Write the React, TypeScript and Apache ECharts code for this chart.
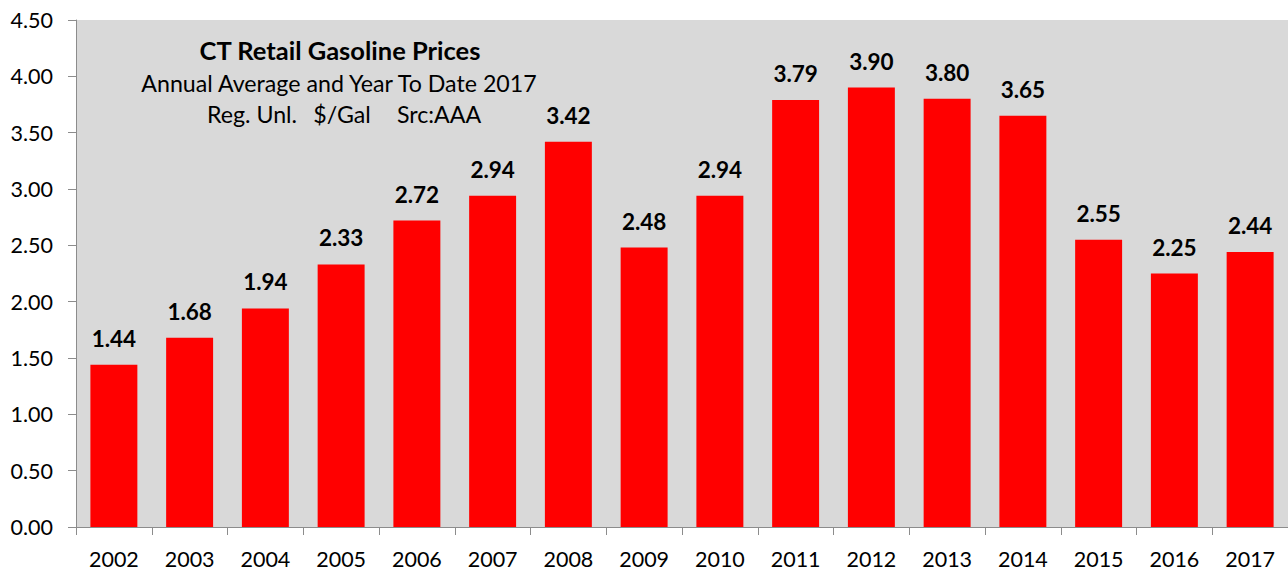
import React, { useEffect, useRef } from "react";
import * as echarts from "echarts";

const years = ["2002","2003","2004","2005","2006","2007","2008","2009","2010","2011","2012","2013","2014","2015","2016","2017"];
const prices = [1.44, 1.68, 1.94, 2.33, 2.72, 2.94, 3.42, 2.48, 2.94, 3.79, 3.90, 3.80, 3.65, 2.55, 2.25, 2.44];
const titleText = "CT Retail Gasoline Prices";
const subtitleText = "Annual Average and Year To Date 2017";
const noteParts = ["Reg. Unl.", "$/Gal", "Src:AAA"];

const FONT = "Lato, 'Open Sans', sans-serif";

export default function App() {
  const ref = useRef<HTMLDivElement>(null);
  useEffect(() => {
    if (!ref.current) return;
    const chart = echarts.init(ref.current, undefined, { renderer: "svg" });
    const notePos = [252, 342, 439];
    chart.setOption({
      animation: false,
      backgroundColor: "#ffffff",
      grid: { left: 76, right: -2, top: 20, bottom: 45, backgroundColor: "#d9d9d9", show: true, borderWidth: 0 },
      xAxis: {
        type: "category",
        data: years,
        axisLine: { lineStyle: { color: "#8c8c8c", width: 1 } },
        axisTick: { show: true, length: 8, lineStyle: { color: "#8c8c8c" } },
        axisLabel: { color: "#000", fontSize: 21.5, fontFamily: FONT, margin: 21 },
      },
      yAxis: {
        type: "value",
        min: 0,
        max: 4.5,
        interval: 0.5,
        axisLine: { show: true, lineStyle: { color: "#8c8c8c", width: 1 } },
        axisTick: { show: true, length: 8, lineStyle: { color: "#8c8c8c" } },
        splitLine: { show: false },
        axisLabel: { color: "#000", fontSize: 21.5, fontFamily: FONT, margin: 23, formatter: (v: number) => v.toFixed(2) },
      },
      series: [
        {
          type: "bar",
          data: prices,
          barWidth: "62%",
          itemStyle: { color: "#ff0000" },
          label: {
            show: true,
            position: "top",
            distance: 15,
            color: "#000",
            fontSize: 22.5,
            fontWeight: "bold",
            fontFamily: FONT,
            formatter: (p: any) => Number(p.value).toFixed(2),
          },
        },
      ],
      graphic: [
        { type: "text", x: 340, y: 50, style: { text: titleText, fontSize: 25.5, fontWeight: "bold", fontFamily: FONT, fill: "#000", textAlign: "center", textVerticalAlign: "middle" } },
        { type: "text", x: 339, y: 83, style: { text: subtitleText, fontSize: 23.2, fontFamily: FONT, fill: "#000", textAlign: "center", textVerticalAlign: "middle" } },
        ...noteParts.map((t, i) => ({
          type: "text", x: notePos[i], y: 114,
          style: { text: t, fontSize: 23.2, fontFamily: FONT, fill: "#000", textAlign: "center", textVerticalAlign: "middle" },
        })),
      ],
    });
    return () => chart.dispose();
  }, []);
  return <div ref={ref} style={{ position: "absolute", left: 0, top: 0, width: 1288, height: 572 }} />;
}
